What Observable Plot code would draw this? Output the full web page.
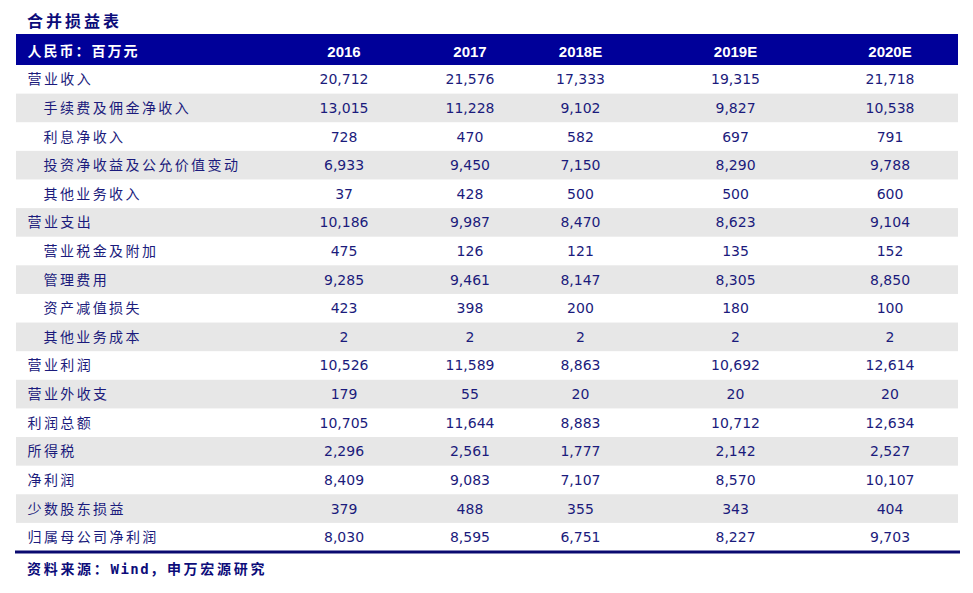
<!DOCTYPE html>
<html>
<head>
<meta charset="utf-8">
<script src="https://cdn.jsdelivr.net/npm/d3@7"></script>
<script src="https://cdn.jsdelivr.net/npm/@observablehq/plot@0.6"></script>
<style>
  html, body { margin: 0; padding: 0; background: #fff; }
  #wrap { width: 973px; }
  .title { height: 34px; box-sizing: border-box; padding: 10px 0 0 27px; line-height: 20px;
           font-family: "Noto Sans CJK SC", sans-serif; font-weight: bold; font-size: 16px;
           letter-spacing: 3px; color: #0c0c7a; }
  .foot { padding: 3px 0 0 27px; line-height: 20px;
          font-family: "Noto Sans CJK SC", sans-serif; font-weight: bold; font-size: 14px;
          letter-spacing: 2.7px; color: #0c0c7a; }
  .foot .en { font-family: "DejaVu Sans Mono", monospace; letter-spacing: 1.5px; }
  svg { display: block; }
</style>
</head>
<body>
<div id="wrap">
  <div class="title">合并损益表</div>
  <div id="chart"></div>
  <div class="foot">资料来源：<span class="en">Wind</span>，申万宏源研究</div>
</div>
<script>
// ---- data ----
const headLabel = "人民币：百万元";
const years = ["2016", "2017", "2018E", "2019E", "2020E"];
const items = ["营业收入", "手续费及佣金净收入", "利息净收入", "投资净收益及公允价值变动", "其他业务收入",
  "营业支出", "营业税金及附加", "管理费用", "资产减值损失", "其他业务成本",
  "营业利润", "营业外收支", "利润总额", "所得税", "净利润", "少数股东损益", "归属母公司净利润"];
const subItems = ["手续费及佣金净收入", "利息净收入", "投资净收益及公允价值变动", "其他业务收入",
  "营业税金及附加", "管理费用", "资产减值损失", "其他业务成本"];
const v2016 = [20712, 13015, 728, 6933, 37, 10186, 475, 9285, 423, 2, 10526, 179, 10705, 2296, 8409, 379, 8030];
const v2017 = [21576, 11228, 470, 9450, 428, 9987, 126, 9461, 398, 2, 11589, 55, 11644, 2561, 9083, 488, 8595];
const v2018E = [17333, 9102, 582, 7150, 500, 8470, 121, 8147, 200, 2, 8863, 20, 8883, 1777, 7107, 355, 6751];
const v2019E = [19315, 9827, 697, 8290, 500, 8623, 135, 8305, 180, 2, 10692, 20, 10712, 2142, 8570, 343, 8227];
const v2020E = [21718, 10538, 791, 9788, 600, 9104, 152, 8850, 100, 2, 12614, 20, 12634, 2527, 10107, 404, 9703];

// ---- layout (column centres, % of table width) ----
const colCenter = {"2016": 34.77, "2017": 48.14, "2018E": 59.87, "2019E": 76.33, "2020E": 92.73};

const series = {"2016": v2016, "2017": v2017, "2018E": v2018E, "2019E": v2019E, "2020E": v2020E};
const rows = items.map((name, i) => ({name, i, sub: subItems.includes(name)}));
const cells = [];
for (const y of years) series[y].forEach((v, i) => cells.push({name: items[i], year: y, value: v}));
const fmt = d3.format(",");

const navy = "#1b1b7c";
const chart = Plot.plot({
  width: 973,
  height: 521,
  marginTop: 2.38,
  marginBottom: 3.5,
  marginLeft: 16,
  marginRight: 15,
  x: {type: "linear", domain: [0, 100], axis: null},
  y: {type: "band", domain: [headLabel, ...items], padding: 0, round: false, axis: null},
  marks: [
    Plot.barX(rows.filter(d => d.i % 2 === 1), {x1: 0, x2: 100, y: "name", fill: "#e7e7e7"}),
    Plot.barX([headLabel], {x1: 0, x2: 100, y: d => d, fill: "#000099", insetTop: -2.4}),
    Plot.text([headLabel], {x: 0, y: d => d, text: d => d, dx: 11, textAnchor: "start",
      fill: "white", fontWeight: "bold", fontSize: 14, fontFamily: "Noto Sans CJK SC"}),
    Plot.text(years, {x: d => colCenter[d], y: () => headLabel, text: d => d, dy: 1,
      fill: "white", fontWeight: "bold", fontSize: 15, fontFamily: "Liberation Sans"}),
    Plot.text(rows.filter(d => !d.sub), {x: 0, y: "name", text: "name", dx: 11, textAnchor: "start",
      fill: navy, fontSize: 14, fontFamily: "Noto Sans CJK SC"}),
    Plot.text(rows.filter(d => d.sub), {x: 0, y: "name", text: "name", dx: 27, textAnchor: "start",
      fill: navy, fontSize: 14, fontFamily: "Noto Sans CJK SC"}),
    Plot.text(cells, {x: d => colCenter[d.year], y: "name", text: d => fmt(d.value),
      fill: navy, fontSize: 14, fontFamily: "DejaVu Sans"}),
    Plot.frame({anchor: "bottom", stroke: "#0a0a70", strokeWidth: 3})
  ]
});
// letter-spacing for Chinese labels (style only)
chart.querySelectorAll("text").forEach(t => {
  const s = t.textContent;
  if (items.includes(s)) t.style.letterSpacing = "2.4px";
  else if (s === headLabel) t.style.letterSpacing = "2px";
});
document.getElementById("chart").appendChild(chart);
</script>
</body>
</html>
